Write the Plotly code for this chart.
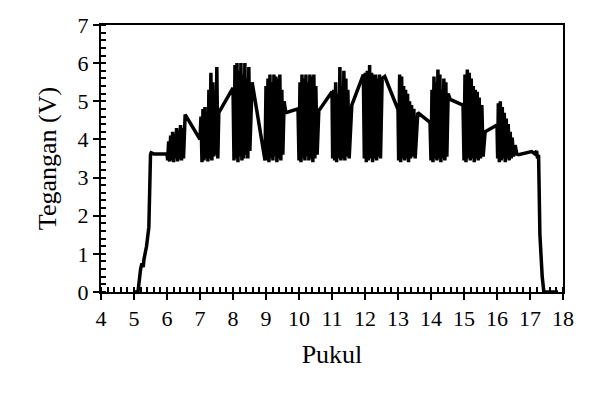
import plotly.graph_objects as go

# Hours (Pukul) and voltage (Tegangan, V)
pukul = [
    5.00, 5.12, 5.20, 5.24, 5.28, 5.30, 5.38, 5.45, 5.50, 5.52, 5.60, 6.00,
    6.02, 6.05, 6.08, 6.11, 6.14, 6.17, 6.20, 6.23, 6.26, 6.29, 6.32, 6.35, 6.38, 6.41, 6.44, 6.47, 6.50, 6.55,
    7.00, 7.03, 7.06, 7.09, 7.12, 7.15, 7.18, 7.21, 7.24, 7.27, 7.30, 7.33, 7.36, 7.39, 7.42, 7.45, 7.48, 7.51, 7.54, 7.57,
    8.00, 8.03, 8.06, 8.09, 8.12, 8.15, 8.18, 8.21, 8.24, 8.27, 8.30, 8.33, 8.36, 8.39, 8.42, 8.45, 8.48, 8.51, 8.58,
    8.97, 9.00, 9.03, 9.06, 9.09, 9.12, 9.15, 9.18, 9.21, 9.24, 9.27, 9.30, 9.33, 9.36, 9.39, 9.42, 9.45, 9.48, 9.51, 9.55, 9.60,
    9.97, 10.00, 10.03, 10.06, 10.09, 10.12, 10.15, 10.18, 10.21, 10.24, 10.27, 10.30, 10.33, 10.36, 10.39, 10.42, 10.45, 10.48, 10.51, 10.55, 10.60,
    11.00, 11.02, 11.05, 11.08, 11.11, 11.14, 11.17, 11.20, 11.24, 11.27, 11.30, 11.33, 11.36, 11.39, 11.42, 11.45, 11.48, 11.52, 11.60,
    11.95, 11.98, 12.01, 12.04, 12.07, 12.10, 12.14, 12.17, 12.20, 12.23, 12.26, 12.29, 12.32, 12.35, 12.38, 12.41, 12.44, 12.47, 12.52, 12.60,
    13.00, 13.02, 13.05, 13.08, 13.11, 13.14, 13.17, 13.20, 13.23, 13.26, 13.29, 13.32, 13.35, 13.38, 13.41, 13.45, 13.48, 13.52, 13.60,
    13.97, 14.00, 14.03, 14.06, 14.09, 14.12, 14.15, 14.18, 14.21, 14.24, 14.27, 14.30, 14.33, 14.36, 14.39, 14.42, 14.45, 14.48, 14.52, 14.58,
    14.97, 15.00, 15.03, 15.06, 15.10, 15.13, 15.16, 15.19, 15.22, 15.25, 15.28, 15.31, 15.34, 15.37, 15.40, 15.43, 15.46, 15.50, 15.54, 15.58, 15.64,
    16.00, 16.02, 16.04, 16.07, 16.10, 16.13, 16.16, 16.19, 16.22, 16.25, 16.28, 16.31, 16.34, 16.37, 16.40, 16.43, 16.46, 16.50, 16.55, 16.60,
    16.65, 17.05, 17.15, 17.20, 17.23, 17.26, 17.30, 17.33, 17.37, 17.42, 17.85,
]

tegangan = [
    0.00, 0.00, 0.60, 0.75, 0.65, 0.85, 1.20, 1.70, 3.60, 3.65, 3.62, 3.62,
    3.45, 3.95, 3.42, 4.10, 3.45, 4.20, 3.40, 4.15, 3.50, 4.30, 3.42, 4.25, 3.48, 4.38, 3.45, 4.30, 3.50, 4.65,
    4.00, 4.60, 3.40, 4.80, 3.45, 4.85, 3.50, 4.70, 3.42, 5.30, 3.50, 5.75, 3.45, 5.50, 3.55, 5.20, 3.60, 5.90, 3.50, 4.70,
    5.35, 3.45, 5.95, 3.50, 6.00, 3.40, 5.80, 3.55, 6.00, 3.45, 5.70, 3.50, 6.00, 3.60, 5.60, 3.50, 5.90, 3.70, 5.50,
    3.45, 5.40, 3.45, 5.60, 3.40, 5.70, 3.50, 5.50, 3.45, 5.70, 3.55, 5.65, 3.40, 5.60, 3.50, 5.70, 3.45, 5.30, 3.60, 5.00, 4.70,
    4.80, 3.45, 5.50, 3.40, 5.70, 3.50, 5.60, 3.45, 5.70, 3.55, 5.50, 3.45, 5.70, 3.50, 5.65, 3.40, 5.70, 3.50, 5.40, 3.60, 4.75,
    5.25, 3.50, 5.30, 3.45, 5.50, 3.40, 5.20, 3.50, 5.90, 3.45, 5.40, 3.50, 5.80, 3.45, 5.60, 3.55, 5.30, 3.50, 4.90,
    5.70, 3.50, 5.75, 3.40, 5.80, 3.45, 5.95, 3.50, 5.75, 3.40, 5.70, 3.50, 5.70, 3.45, 5.60, 3.55, 5.70, 3.50, 5.60, 5.65,
    4.78, 3.45, 5.70, 3.40, 5.65, 3.50, 5.40, 3.45, 5.30, 3.50, 5.20, 3.40, 5.00, 3.50, 4.90, 3.55, 4.80, 3.50, 4.70,
    4.45, 3.45, 5.30, 3.40, 5.65, 3.50, 5.50, 3.45, 5.83, 3.50, 5.70, 3.40, 5.30, 3.50, 5.60, 3.45, 5.50, 3.55, 5.20, 5.05,
    4.90, 3.45, 5.70, 3.40, 5.83, 3.50, 5.75, 3.45, 5.60, 3.50, 5.40, 3.40, 5.30, 3.50, 5.25, 3.45, 5.10, 3.50, 4.90, 3.55, 4.20,
    4.38, 3.50, 4.95, 3.40, 5.00, 3.45, 4.85, 3.50, 4.70, 3.40, 4.55, 3.50, 4.40, 3.45, 4.20, 3.50, 4.05, 3.55, 3.85, 3.62,
    3.60, 3.68, 3.62, 3.70, 3.50, 3.60, 1.50, 0.85, 0.40, 0.00, 0.00,
]

x_ticks = list(range(4, 19))
y_ticks = list(range(0, 8))

font_family = "Liberation Serif, Times New Roman, serif"

fig = go.Figure()
fig.add_trace(go.Scatter(
    x=pukul, y=tegangan, mode="lines",
    line=dict(color="black", width=3.5),
    showlegend=False, hoverinfo="skip",
))

axis_common = dict(
    showgrid=False, zeroline=False,
    showline=True, linecolor="black", linewidth=2, mirror=True,
    ticks="outside", ticklen=6, tickwidth=2, tickcolor="black",
    tickfont=dict(family=font_family, size=22, color="black"),
)

fig.update_xaxes(
    range=[4, 18], tickvals=x_ticks, ticktext=[str(v) for v in x_ticks],
    minor=dict(dtick=0.2, ticks="inside", ticklen=5, tickwidth=1.5, tickcolor="black", showgrid=False),
    title=dict(text="Pukul", font=dict(family=font_family, size=26, color="black"), standoff=14),
    **axis_common,
)
fig.update_yaxes(
    range=[0, 7], tickvals=y_ticks, ticktext=[str(v) for v in y_ticks],
    minor=dict(dtick=0.2, ticks="inside", ticklen=5, tickwidth=1.5, tickcolor="black", showgrid=False),
    title=dict(text="Tegangan (V)", font=dict(family=font_family, size=26, color="black"), standoff=13),
    **axis_common,
)

fig.update_layout(
    width=600, height=400,
    margin=dict(l=93, r=45, t=17, b=116, autoexpand=False),
    plot_bgcolor="white", paper_bgcolor="white",
    font=dict(family=font_family, color="black"),
)

fig.write_html("out.html")
